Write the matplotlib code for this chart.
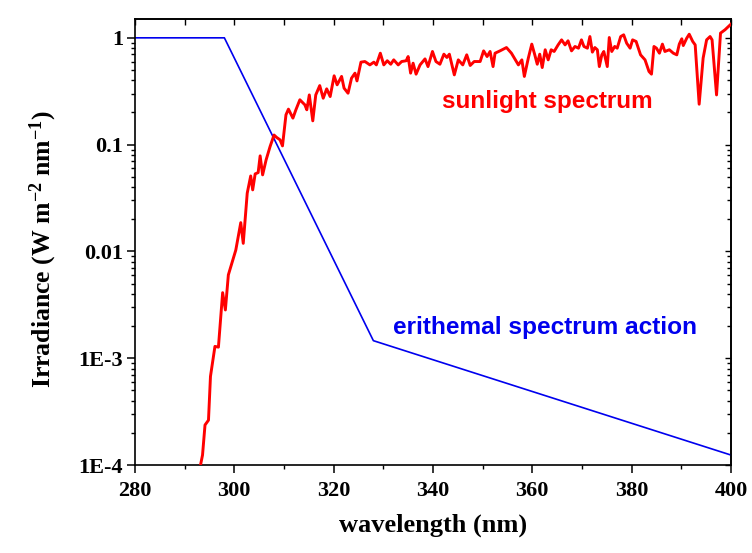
import matplotlib
matplotlib.use("Agg")
import matplotlib.pyplot as plt
from matplotlib.ticker import FixedLocator, MultipleLocator, NullFormatter

# ---- data ----
sun_wl = [293.0, 293.6, 294.1, 294.8, 295.2, 296.1, 296.8, 297.65, 298.2, 298.8,
          300.3, 301.3, 301.8, 302.6, 303.3, 303.7, 304.2, 304.8, 305.2, 305.7,
          306.4, 307.2, 308.0, 308.5, 309.2, 309.7, 310.4, 310.9, 311.8, 312.4,
          313.2, 314.2, 314.6, 315.1, 315.8, 316.4, 317.2, 317.9, 318.6, 319.3,
          320.1, 320.7, 321.6, 322.1, 322.9, 323.6, 324.3, 324.7, 325.5, 326.3,
          327.3, 328.1, 328.6, 329.4, 330.1, 330.8, 331.5, 332.1, 333.0, 333.7,
          334.6, 335.0, 335.5, 336.0, 336.6, 337.4, 338.4, 339.0, 339.9, 340.6,
          341.4, 342.2, 342.8, 343.3, 344.3, 345.1, 346.0, 346.8, 347.5, 348.3,
          349.5, 350.2, 350.9, 351.5, 352.1, 352.5, 353.5, 354.8, 355.8,
          357.2, 357.9, 358.4, 359.2, 359.9, 360.5, 361.0, 361.5, 362.0, 362.6,
          363.2, 363.8, 364.4, 365.2, 365.9, 366.6, 367.2, 367.9, 368.6, 369.3,
          369.9, 370.4, 371.1, 371.6, 372.1, 372.6, 373.1, 373.5, 374.0, 374.4,
          375.1, 375.5, 376.0, 376.6, 377.1, 377.8, 378.4, 379.0, 379.7, 380.2,
          380.9, 381.8, 382.7, 383.5, 384.0, 384.5, 385.0, 385.6, 386.2, 386.7,
          387.6, 388.4, 389.1, 389.6, 390.1, 390.4, 391.1, 391.6, 392.3, 392.8,
          393.6, 394.4, 395.1, 395.8, 396.2, 397.1, 397.9, 398.8, 400.0]
sun_irr = [9.0e-5, 1.24e-4, 2.37e-4, 2.63e-4, 6.76e-4, 1.29e-3, 1.27e-3, 4.11e-3, 2.83e-3, 6.03e-3,
           1.03e-2, 1.86e-2, 1.19e-2, 3.51e-2, 5.09e-2, 3.77e-2, 5.32e-2, 5.47e-2, 7.85e-2, 5.21e-2,
           7.19e-2, 9.59e-2, 0.123, 0.117, 0.111, 0.0973, 0.190, 0.215, 0.177, 0.212,
           0.263, 0.236, 0.212, 0.292, 0.167, 0.292, 0.357, 0.272, 0.333, 0.282,
           0.441, 0.363, 0.435, 0.338, 0.303, 0.419, 0.467, 0.395, 0.592, 0.600,
           0.558, 0.592, 0.558, 0.718, 0.558, 0.610, 0.566, 0.622, 0.558, 0.600,
           0.610, 0.668, 0.467, 0.579, 0.457, 0.558, 0.635, 0.538, 0.745, 0.600,
           0.566, 0.703, 0.655, 0.703, 0.450, 0.622, 0.558, 0.693, 0.551, 0.600,
           0.600, 0.755, 0.668, 0.745, 0.538, 0.718, 0.755, 0.811, 0.718,
           0.558, 0.622, 0.435, 0.646, 0.873, 0.693, 0.566, 0.703, 0.527, 0.773,
           0.622, 0.773, 0.745, 0.859, 0.957, 0.859, 0.938, 0.755, 0.830, 0.800,
           0.957, 0.830, 0.800, 1.028, 0.735, 0.811, 0.773, 0.538, 0.693, 0.745,
           0.538, 1.007, 0.745, 0.830, 0.800, 1.028, 1.067, 0.891, 0.800, 0.957,
           0.925, 0.693, 0.622, 0.484, 0.457, 0.830, 0.800, 0.718, 0.873, 0.745,
           0.773, 0.718, 0.693, 0.873, 0.979, 0.847, 0.993, 1.081, 0.925, 0.859,
           0.239, 0.646, 0.957, 1.028, 0.957, 0.292, 1.107, 1.189, 1.343]

ery_wl = [280, 298, 328, 400]
ery_val = [1.0, 1.0, 1.46e-3, 1.24e-4]

ytick_vals = [1e-4, 1e-3, 1e-2, 1e-1, 1]
ytick_labels = ["1E-4", "1E-3", "0.01", "0.1", "1"]
xtick_vals = [280, 300, 320, 340, 360, 380, 400]

# ---- style ----
serif = "Liberation Serif"
plt.rcParams['mathtext.fontset'] = 'custom'
plt.rcParams['mathtext.rm'] = serif + ':bold'
plt.rcParams['mathtext.it'] = serif + ':bold'
plt.rcParams['mathtext.bf'] = serif + ':bold'

fig = plt.figure(figsize=(7.52, 5.53), dpi=100)
ax = fig.add_axes([0.1795, 0.1591, 0.972 - 0.1795, 0.9656 - 0.1591])

ax.plot(sun_wl, sun_irr, color="#ff0000", lw=2.1, solid_joinstyle='round', zorder=3)
ax.plot(ery_wl, ery_val, color="#0000ee", lw=1.2, zorder=2)

ax.set_yscale("log")
ax.set_xlim(280, 400)
ax.set_ylim(1e-4, 1.5)

ax.xaxis.set_major_locator(FixedLocator(xtick_vals))
ax.xaxis.set_minor_locator(MultipleLocator(10))
ax.yaxis.set_major_locator(FixedLocator(ytick_vals))
ax.set_yticklabels(ytick_labels)
ax.yaxis.set_minor_formatter(NullFormatter())

for lab in ax.get_xticklabels() + ax.get_yticklabels():
    lab.set_fontfamily(serif)
    lab.set_fontweight("bold")
    lab.set_fontsize(16)

ax.tick_params(axis='both', which='major', direction='out', length=5.5, width=1.1,
               top=False, right=False)
ax.tick_params(axis='x', which='major', pad=6)
ax.tick_params(axis='y', which='major', pad=3)
ax.tick_params(axis='both', which='minor', direction='out', length=3, width=1.0,
               top=False, right=False)

# top & right inward ticks via secondary axes
axt = ax.secondary_xaxis('top')
axt.xaxis.set_major_locator(FixedLocator(xtick_vals))
axt.xaxis.set_minor_locator(MultipleLocator(10))
axt.tick_params(which='major', direction='in', length=4, width=1.0, labeltop=False)
axt.tick_params(which='minor', direction='in', length=4, width=1.0)
axt.set_xticklabels([])
axr = ax.secondary_yaxis('right')
axr.yaxis.set_major_locator(FixedLocator(ytick_vals))
axr.tick_params(which='major', direction='in', length=4, width=1.0, labelright=False)
axr.tick_params(which='minor', direction='in', length=3, width=1.0)
axr.set_yticklabels([])

for sp in ax.spines.values():
    sp.set_linewidth(1.2)
for a in (axt, axr):
    for sp in a.spines.values():
        sp.set_linewidth(1.2)

ax.set_xlabel("wavelength (nm)", fontfamily=serif, fontweight="bold", fontsize=19, labelpad=9)
ax.set_ylabel(r"Irradiance (W m$^{-2}$ nm$^{-1}$)", fontfamily=serif, fontweight="bold",
              fontsize=18.5, labelpad=6)
ax.yaxis.set_label_coords(-0.128, 0.485)

ax.text(363.1, 0.253, "sunlight spectrum", color="#ff0000", fontfamily="Liberation Sans",
        fontweight="bold", fontsize=17.5, ha="center", va="center")
ax.text(362.5, 0.00192, "erithemal spectrum action", color="#0000ee", fontfamily="Liberation Sans",
        fontweight="bold", fontsize=17.6, ha="center", va="center")

fig.savefig("out.png", dpi=100)
